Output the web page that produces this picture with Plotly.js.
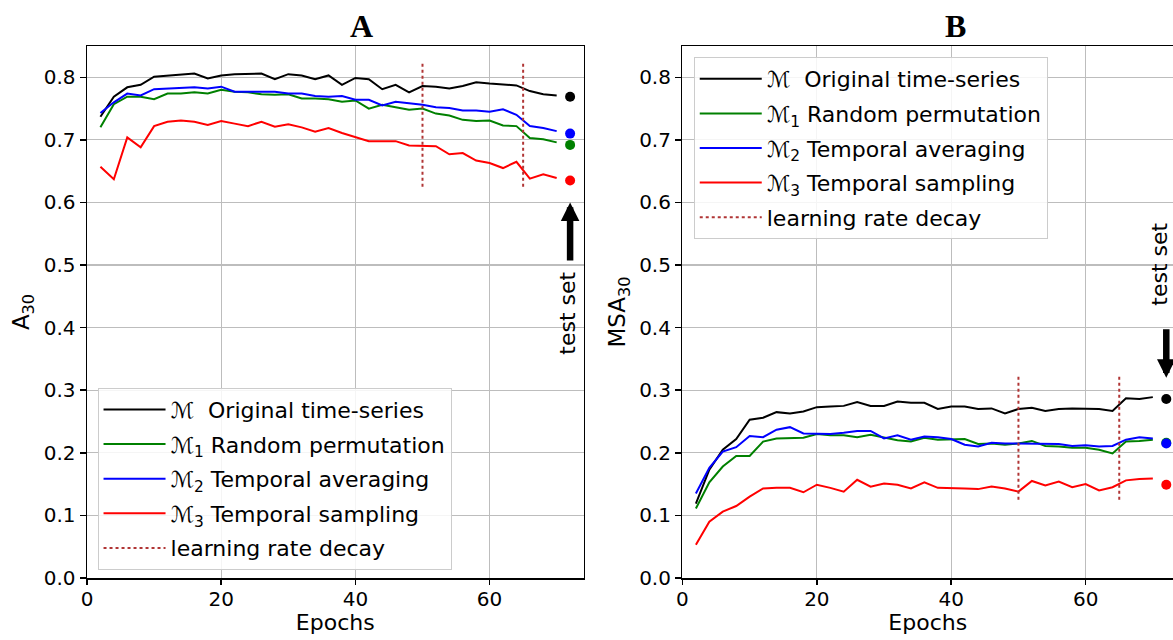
<!DOCTYPE html>
<html><head><meta charset="utf-8">
<script src="https://cdn.plot.ly/plotly-3.0.1.min.js"></script>
<style>body{margin:0;background:#fff}#chart{width:1173px;height:640px}</style>
</head><body><div id="chart"></div>
<script>
// ---- data ----
const epochs = [2,4,6,8,10,12,14,16,18,20,22,24,26,28,30,32,34,36,38,40,42,44,46,48,50,52,54,56,58,60,62,64,66,68,70];
const testEpoch = 72;
const seriesNames = ['\u2133\u00a0\u00a0Original time-series', '\u2133<sub>1</sub> Random permutation', '\u2133<sub>2</sub> Temporal averaging', '\u2133<sub>3</sub> Temporal sampling'];
const decayName = 'learning rate decay';
const decayEpochs = [50, 65];

// Panel A: A30
const accOrig = [0.737,0.769,0.784,0.788,0.801,0.803,0.805,0.806,0.798,0.803,0.805,0.805,0.806,0.797,0.805,0.803,0.797,0.803,0.788,0.799,0.797,0.781,0.788,0.776,0.786,0.785,0.782,0.786,0.792,0.790,0.788,0.787,0.778,0.773,0.771];
const accPerm = [0.720,0.757,0.769,0.769,0.765,0.774,0.774,0.776,0.774,0.780,0.777,0.776,0.773,0.772,0.773,0.766,0.766,0.765,0.761,0.763,0.750,0.756,0.752,0.748,0.750,0.742,0.739,0.732,0.730,0.731,0.723,0.722,0.703,0.701,0.696];
const accAvg  = [0.743,0.760,0.774,0.771,0.781,0.782,0.784,0.784,0.782,0.785,0.777,0.777,0.777,0.777,0.774,0.774,0.770,0.769,0.770,0.764,0.764,0.755,0.761,0.759,0.756,0.752,0.751,0.747,0.747,0.745,0.749,0.740,0.722,0.719,0.714];
const accSamp = [0.657,0.637,0.704,0.688,0.722,0.729,0.731,0.729,0.724,0.730,0.726,0.722,0.729,0.721,0.725,0.720,0.713,0.719,0.711,0.704,0.698,0.698,0.698,0.691,0.691,0.690,0.677,0.679,0.667,0.663,0.655,0.665,0.638,0.645,0.639];
const accTest = [0.769, 0.692, 0.710, 0.635];
const decayRangeA = [0.625, 0.822];

// Panel B: MSA30
const msaOrig = [0.119,0.173,0.205,0.222,0.253,0.256,0.265,0.263,0.266,0.273,0.274,0.275,0.281,0.275,0.275,0.282,0.280,0.280,0.270,0.274,0.274,0.270,0.271,0.263,0.270,0.272,0.267,0.270,0.271,0.270,0.270,0.267,0.287,0.286,0.289];
const msaPerm = [0.111,0.153,0.178,0.195,0.195,0.218,0.223,0.224,0.224,0.230,0.228,0.228,0.225,0.229,0.225,0.220,0.218,0.224,0.221,0.222,0.222,0.214,0.215,0.213,0.215,0.219,0.211,0.210,0.208,0.208,0.205,0.199,0.218,0.219,0.221];
const msaAvg  = [0.135,0.176,0.202,0.209,0.227,0.225,0.237,0.241,0.231,0.230,0.230,0.232,0.235,0.235,0.223,0.228,0.221,0.226,0.225,0.222,0.213,0.210,0.216,0.215,0.215,0.214,0.214,0.214,0.211,0.212,0.210,0.211,0.221,0.225,0.223];
const msaSamp = [0.053,0.090,0.106,0.115,0.130,0.143,0.144,0.144,0.137,0.149,0.144,0.138,0.157,0.146,0.151,0.149,0.143,0.153,0.144,0.144,0.143,0.142,0.146,0.143,0.138,0.155,0.148,0.154,0.145,0.150,0.140,0.145,0.156,0.158,0.159];
const msaTest = [0.286, 0.216, 0.215, 0.149];
const decayRangeB = [0.125, 0.323];

const yTicks = [0,0.1,0.2,0.3,0.4,0.5,0.6,0.7,0.8];
const xTicks = [0,20,40,60];

// ---- styles ----
const colors = ['#000000', '#008000', '#0000ff', '#ff0000'];
const decayColor = '#b03535';
const FONT = 'DejaVu Sans, sans-serif';

function panelTraces(series, test, decayRange, xa, ya, legendId, gpre) {
  const tr = [];
  series.forEach((s, i) => {
    tr.push({x: epochs, y: s, type: 'scatter', mode: 'lines', name: seriesNames[i],
      line: {color: colors[i], width: 2}, xaxis: xa, yaxis: ya, legend: legendId,
      legendgroup: gpre + i});
  });
  const dx = [], dy = [];
  decayEpochs.forEach(e => { dx.push(e, e, null); dy.push(decayRange[0], decayRange[1], null); });
  tr.push({x: dx, y: dy, type: 'scatter', mode: 'lines', name: decayName,
    line: {color: decayColor, width: 2, dash: 'dot'}, xaxis: xa, yaxis: ya, legend: legendId,
    legendgroup: gpre + 'd'});
  test.forEach((v, i) => {
    tr.push({x: [testEpoch], y: [v], type: 'scatter', mode: 'markers', showlegend: false,
      marker: {color: colors[i], size: 10}, xaxis: xa, yaxis: ya});
  });
  return tr;
}

const traces = [].concat(
  panelTraces([accOrig, accPerm, accAvg, accSamp], accTest, decayRangeA, 'x', 'y', 'legend', 'a'),
  panelTraces([msaOrig, msaPerm, msaAvg, msaSamp], msaTest, decayRangeB, 'x2', 'y2', 'legend2', 'b')
);

function xAxis(domain, range, anchor) {
  return {domain: domain, range: range, anchor: anchor, tickvals: xTicks, ticktext: xTicks.map(String),
    showgrid: true, gridcolor: '#bdbdbd', gridwidth: 1.2, zeroline: false,
    showline: true, linecolor: '#000', linewidth: 1.5, mirror: true,
    ticks: 'outside', ticklen: 5, tickwidth: 1.5, tickcolor: '#000', ticklabelstandoff: -3,
    tickfont: {family: FONT, size: 20, color: '#000'},
    title: {text: 'Epochs', font: {family: FONT, size: 22, color: '#000'}, standoff: 5}};
}
function yAxis(title, anchor) {
  return {domain: [0, 1], range: [0, 0.85], anchor: anchor, tickvals: yTicks, ticktext: yTicks.map(v => v.toFixed(1)),
    showgrid: true, gridcolor: '#bdbdbd', gridwidth: 1.2, zeroline: false,
    showline: true, linecolor: '#000', linewidth: 1.5, mirror: true,
    ticks: 'outside', ticklen: 6, tickwidth: 1.5, tickcolor: '#000',
    tickfont: {family: FONT, size: 20, color: '#000'},
    title: {text: title, font: {family: FONT, size: 23, color: '#000'}, standoff: 7}};
}

const legendStyle = (x, y) => ({x: x, y: y, xanchor: 'left', yanchor: 'top',
  bgcolor: 'rgba(255,255,255,0.85)', bordercolor: '#cccccc', borderwidth: 1,
  font: {family: FONT, size: 22, color: '#000'}, traceorder: 'grouped', tracegroupgap: 3,
  itemwidth: 62});

const layout = {
  width: 1173, height: 640,
  margin: {l: 87, r: 0, t: 46, b: 62},
  paper_bgcolor: '#fff', plot_bgcolor: '#fff',
  xaxis: xAxis([0, 0.4572], [0, 74], 'y'),
  yaxis: yAxis('A<sub>30</sub>', 'x'),
  xaxis2: xAxis([0.5483, 1], [0, 73], 'y2'),
  yaxis2: yAxis('MSA<sub>30</sub>', 'x2'),
  legend: legendStyle(0.0097, 0.3577),
  legend2: legendStyle(0.5587, 0.9793),
  annotations: [
    {text: '<b>A</b>', xref: 'paper', yref: 'paper', x: (361 - 87) / 1086, y: 1 + (46 - 26) / 532,
      xanchor: 'center', yanchor: 'middle', showarrow: false,
      font: {family: 'Liberation Serif, serif', size: 32, color: '#000'}},
    {text: '<b>B</b>', xref: 'paper', yref: 'paper', x: (955 - 87) / 1086, y: 1 + (46 - 26) / 532,
      xanchor: 'center', yanchor: 'middle', showarrow: false,
      font: {family: 'Liberation Serif, serif', size: 32, color: '#000'}},
    {text: '', x: testEpoch, y: 0.600, ax: testEpoch, ay: 0.505, xref: 'x', yref: 'y', axref: 'x', ayref: 'y',
      showarrow: true, arrowhead: 2, arrowwidth: 6.5, arrowsize: 0.57, arrowcolor: '#000'},
    {text: 'test set', x: testEpoch, y: 0.4225, xref: 'x', yref: 'y', showarrow: false, textangle: -90,
      xshift: -3, font: {family: FONT, size: 22, color: '#000'}},
    {text: '', x: testEpoch, y: 0.320, ax: testEpoch, ay: 0.400, xref: 'x2', yref: 'y2', axref: 'x2', ayref: 'y2',
      showarrow: true, arrowhead: 2, arrowwidth: 6.5, arrowsize: 0.57, arrowcolor: '#000'},
    {text: 'test set', x: testEpoch, y: 0.501, xref: 'x2', yref: 'y2', showarrow: false, textangle: -90,
      xshift: -7, font: {family: FONT, size: 22, color: '#000'}}
  ]
};

Plotly.newPlot('chart', traces, layout, {staticPlot: true, displayModeBar: false});
</script>
</body></html>
